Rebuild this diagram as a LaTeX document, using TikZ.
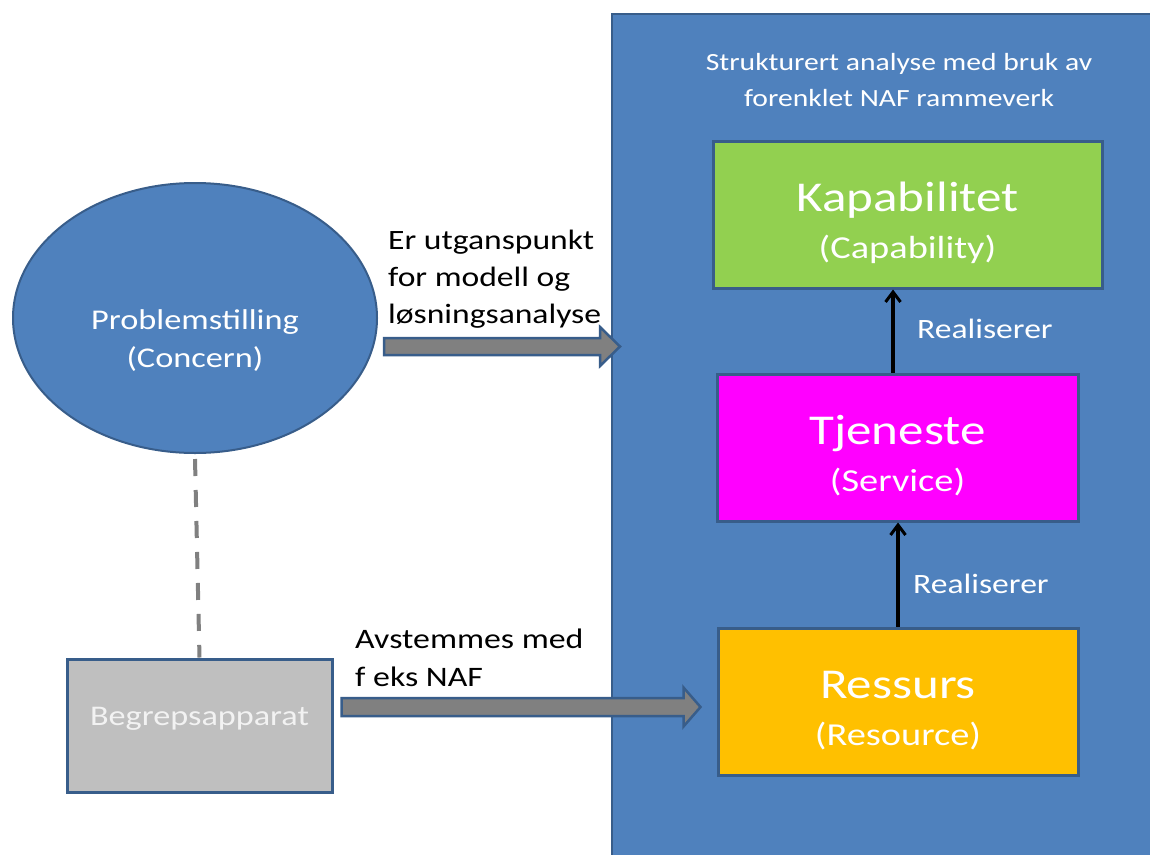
\documentclass[tikz,border=0pt]{standalone}
\usepackage{fontspec}
\setmainfont{Carlito}[FakeStretch=1.2]
\usetikzlibrary{calc,arrows.meta,shapes.geometric}
\definecolor{panelblue}{HTML}{4F81BD}
\definecolor{edgeblue}{HTML}{385D8A}
\definecolor{capgreen}{HTML}{92D050}
\definecolor{svcmagenta}{HTML}{FF00FF}
\definecolor{resorange}{HTML}{FFC000}
\definecolor{conceptgray}{HTML}{BFBFBF}
\definecolor{flowgray}{HTML}{808080}
\newcommand{\fs}[2]{\fontsize{#1}{#2}\selectfont}
\begin{document}
\begin{tikzpicture}[x=1pt,y=-1pt,
  panelbox/.style={draw=edgeblue,line width=2pt,fill=panelblue,anchor=north west,inner sep=0pt},
  layerbox/.style={draw=edgeblue,line width=3pt,rectangle,inner sep=0pt,minimum height=147pt},
  layername/.style={text=white,anchor=base,inner sep=0pt,font=\fs{42.5}{50}},
  layeren/.style={text=white,anchor=base,inner sep=0pt,font=\fs{32}{36}},
  realize/.style={line width=3.2pt,-{Straight Barb[length=10pt,width=15pt,line width=3pt]}},
  reallabel/.style={text=white,anchor=base west,inner sep=0pt,font=\fs{28}{32}},
  flowarrow/.style={draw=edgeblue,line width=2.5pt,fill=flowgray,line join=miter},
  flowlabel/.style={anchor=base west,inner sep=0pt,align=left},
]
\useasboundingbox (0,0) rectangle (1150,854);
\fill[white] (0,0) rectangle (1150,854);

% right-hand panel: structured analysis
\node[panelbox,minimum width=545pt,minimum height=850pt] (panel) at (611,13) {};
\node[text=white,align=center,inner sep=0pt,anchor=base,font=\fs{24.7}{36}] (ptitle) at (899,106)
  {Strukturert analyse med bruk av\\forenklet NAF rammeverk};

% NAF layers
\node[layerbox,fill=capgreen,minimum width=389pt] (kap) at (907.5,214.5) {};
\node[layername] (kapname) at ($(kap.center)+(0,-3.5)$) {Kapabilitet};
\node[layeren] (kapen) at ($(kap.center)+(0,44)$) {(Capability)};
\node[layerbox,fill=svcmagenta,minimum width=361pt] (tj) at (897.5,447.5) {};
\node[layername] (tjname) at ($(tj.center)+(0,-3.5)$) {Tjeneste};
\node[layeren] (tjen) at ($(tj.center)+(0,44)$) {(Service)};
\node[layerbox,fill=resorange,minimum width=360pt] (res) at (898,701.5) {};
\node[layername] (resname) at ($(res.center)+(0,-3.5)$) {Ressurs};
\node[layeren] (resen) at ($(res.center)+(0,44)$) {(Resource)};

\coordinate (r1) at ([xshift=-4.5pt]tj.north);
\draw[realize] (r1) -- (r1 |- kap.south);
\node[reallabel] (rl1) at (917,338) {Realiserer};
\coordinate (r2) at (res.north);
\draw[realize] (r2) -- (r2 |- tj.south);
\node[reallabel] (rl2) at (913,593) {Realiserer};

% concern and concept apparatus
\node[ellipse,draw=edgeblue,line width=2pt,fill=panelblue,minimum width=364pt,minimum height=270pt] (concern) at (195,318) {};
\node[text=white,align=center,inner sep=0pt,anchor=base,font=\fs{28.6}{38}] (concerntxt) at (195,367)
  {Problemstilling\\(Concern)};
\node[rectangle,draw=edgeblue,line width=3pt,fill=conceptgray,minimum width=265pt,minimum height=133pt] (begrep) at (199.5,725.5) {};
\node[text=white!95!black,anchor=base,inner sep=0pt,font=\fs{28.5}{32}] (begreptxt) at (199.5,725) {Begrepsapparat};
\draw[flowgray,line width=4pt,dash pattern=on 17pt off 14pt] (concern.south) ++(0,5) -- (begrep.north);

% block arrows
\coordinate (a1s) at (concern.east);
\coordinate (a1e) at (panel.west);
\coordinate (a1from) at ($(a1s)+(6,28.5)$);
\coordinate (a1to) at ($(a1e |- a1from)+(9,0)$);
\draw[flowarrow] ($(a1from)+(0,-8.5)$) -- ($(a1to)+(-20,-8.5)$) -- ($(a1to)+(-20,-19.5)$) -- (a1to)
  -- ($(a1to)+(-20,19.5)$) -- ($(a1to)+(-20,8.5)$) -- ($(a1from)+(0,8.5)$) -- cycle;
\node[flowlabel,font=\fs{28}{37}] (l1) at (388,323) {Er utganspunkt\\for modell og\\løsningsanalyse};

\coordinate (a2from) at ($(begrep.east)+(8,-18.5)$);
\coordinate (a2to) at (a2from -| res.west);
\draw[flowarrow] ($(a2from)+(0,-9)$) -- ($(a2to)+(-33,-9)$) -- ($(a2to)+(-33,-19.5)$) -- ($(a2to)+(-16,0)$)
  -- ($(a2to)+(-33,19.5)$) -- ($(a2to)+(-33,9)$) -- ($(a2from)+(0,9)$) -- cycle;
\node[flowlabel,font=\fs{28.2}{38}] (l2) at (355,686) {Avstemmes med\\f eks NAF};
\end{tikzpicture}
\end{document}
